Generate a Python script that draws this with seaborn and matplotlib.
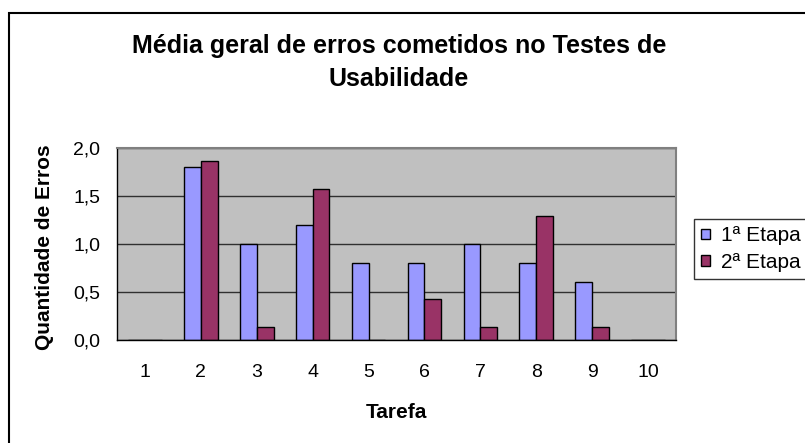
import matplotlib
matplotlib.use("Agg")
import matplotlib.pyplot as plt
from matplotlib.patches import Patch, Rectangle
import numpy as np
import pandas as pd
import seaborn as sns

tarefas = ["1", "2", "3", "4", "5", "6", "7", "8", "9", "10"]
etapa1 = [0.0, 1.80, 1.00, 1.20, 0.80, 0.80, 1.00, 0.80, 0.60, 0.0]
etapa2 = [0.0, 1.86, 0.14, 1.57, 0.0, 0.43, 0.14, 1.29, 0.14, 0.0]
series_names = ["1ª Etapa", "2ª Etapa"]
yticks = [0.0, 0.5, 1.0, 1.5, 2.0]
ytick_labels = ["0,0", "0,5", "1,0", "1,5", "2,0"]

colors = ["#9999FF", "#993366"]

df = pd.DataFrame({
    "Tarefa": tarefas * 2,
    "Etapa": [series_names[0]] * len(tarefas) + [series_names[1]] * len(tarefas),
    "Erros": etapa1 + etapa2,
})

sns.set_style("white")
plt.rcParams["font.family"] = ["Liberation Sans", "DejaVu Sans"]
plt.rcParams.update({
    "text.color": "black",
    "axes.labelcolor": "black",
    "xtick.color": "black",
    "ytick.color": "black",
})

W, H = 805, 443
fig = plt.figure(figsize=(W / 100, H / 100), dpi=100)
ax = fig.add_axes([117 / W, 1 - 340 / H, (676 - 117) / W, (340 - 148) / H])
ax.set_facecolor("#C0C0C0")

sns.barplot(data=df, x="Tarefa", y="Erros", hue="Etapa", order=tarefas,
            hue_order=series_names, palette=colors, width=0.6,
            edgecolor="black", linewidth=1.0, saturation=1, legend=False, ax=ax)

ax.set_ylim(0, 2.0)
ax.set_xlim(-0.5, len(tarefas) - 0.5)
ax.set_yticks(yticks)
ax.set_yticklabels(ytick_labels, fontsize=14, color="black")
ax.yaxis.grid(True, color="#303030", linewidth=1.0)
ax.set_axisbelow(True)

# category labels at centers, tick marks at category boundaries
ax.set_xticks(range(len(tarefas)))
ax.set_xticklabels(tarefas, fontsize=14, color="black")
ax.set_xticks(np.arange(-0.5, len(tarefas), 1.0), minor=True)
ax.tick_params(axis="x", which="major", length=0, pad=17)
ax.tick_params(axis="x", which="minor", length=5, width=1, color="black", direction="out")
ax.tick_params(axis="y", which="major", length=5, width=1, color="black", direction="out", pad=7)

for side in ["left", "bottom"]:
    ax.spines[side].set_color("black")
    ax.spines[side].set_linewidth(1.0)
for side in ["top", "right"]:
    ax.spines[side].set_visible(True)
    ax.spines[side].set_color("#808080")
    ax.spines[side].set_linewidth(1.5)

ax.set_xlabel("Tarefa", fontsize=15, fontweight="bold", color="black")
ax.set_ylabel("Quantidade de Erros", fontsize=15, fontweight="bold", color="black")
ax.xaxis.label.set_va("center")
ax.yaxis.label.set_va("center")
ax.xaxis.set_label_coords(0.5, (340 - 412) / 192)
ax.yaxis.set_label_coords((44 - 117) / 559, (340 - 247) / 192)

fig.text(399 / W, 1 - 53 / H, "Média geral de erros cometidos no Testes de",
         ha="center", va="baseline", fontsize=18, fontweight="bold", color="black")
fig.text(399 / W, 1 - 86 / H, "Usabilidade",
         ha="center", va="baseline", fontsize=18, fontweight="bold", color="black")

handles = [Patch(facecolor=c, edgecolor="black", linewidth=1.0) for c in colors]
leg = fig.legend(handles, series_names, loc="lower left",
                 bbox_to_anchor=(694 / W, 1 - 279 / H), frameon=True,
                 fancybox=False, fontsize=15, handlelength=0.4, handleheight=0.4,
                 handletextpad=0.55, labelspacing=0.35, borderpad=0.35,
                 borderaxespad=0, labelcolor="black")
leg.get_frame().set_edgecolor("black")
leg.get_frame().set_linewidth(1.0)

# chart-area frame
fig.patches.append(Rectangle((9 / W, -0.1), 1.2, (1 - 13 / H) + 0.1,
                             transform=fig.transFigure, fill=False,
                             edgecolor="black", linewidth=1.5, zorder=0))

fig.savefig("out.png", dpi=100)
